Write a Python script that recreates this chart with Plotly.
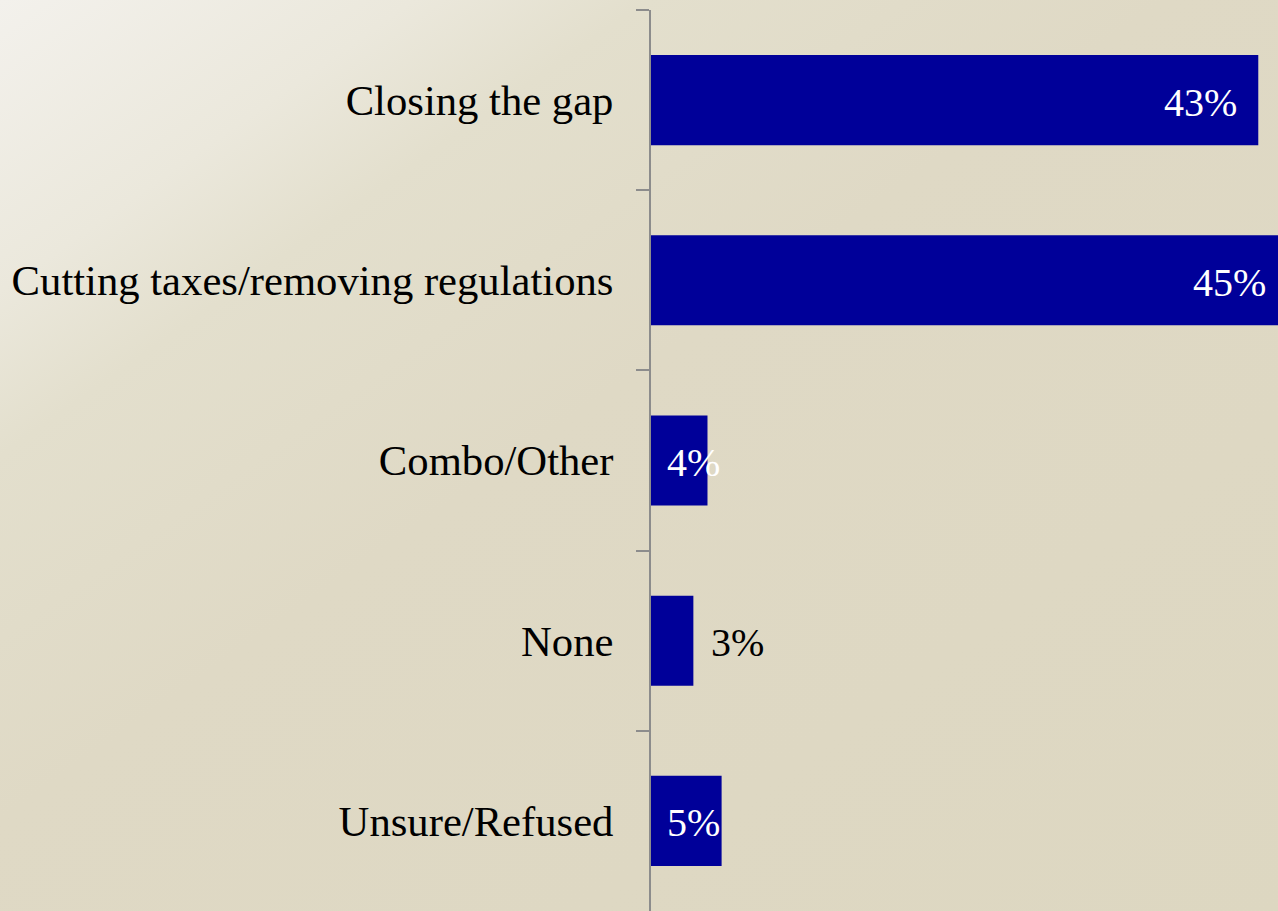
import base64
import plotly.graph_objects as go

categories = ["Closing the gap", "Cutting taxes/removing regulations", "Combo/Other", "None", "Unsure/Refused"]
values = [43, 45, 4, 3, 5]
labels = [f"{v}%" for v in values]

# figure is slightly wider than the 1278px window; the right edge is cropped like the reference
W, H = 1295, 911
ML, MT, MR, MB = 651, 10, 0, 0
PW, PH = W - ML - MR, H - MT - MB
XMAX = 45.6

svg = f'''<svg xmlns="http://www.w3.org/2000/svg" width="{W}" height="{H}" preserveAspectRatio="none">
<defs><linearGradient id="g" x1="0" y1="0" x2="1" y2="1">
<stop offset="0" stop-color="#f3f1ec"/>
<stop offset="0.16" stop-color="#ebe8dc"/>
<stop offset="0.25" stop-color="#e3dfcd"/>
<stop offset="0.45" stop-color="#dfd9c5"/>
<stop offset="1" stop-color="#ddd7c1"/>
</linearGradient></defs>
<rect x="0" y="0" width="{W}" height="{H}" fill="url(#g)"/></svg>'''
bg_src = "data:image/svg+xml;base64," + base64.b64encode(svg.encode()).decode()

fig = go.Figure()
fig.add_trace(go.Bar(
    x=values, y=categories, orientation="h",
    marker=dict(color="#000099", line=dict(width=0)),
    width=0.5, hoverinfo="skip",
))

# data labels: long bars -> inside near the end; 4%/5% -> near the base; 3% -> outside
annotations = []
for cat, v, lab in zip(categories, values, labels):
    if v > 10:
        a = dict(x=v, xanchor="right", xshift=-19, color="white")
    elif v == 3:
        a = dict(x=v, xanchor="left", xshift=16, color="black")
    else:
        a = dict(x=0, xanchor="left", xshift=14, color="white")
    annotations.append(dict(
        x=a["x"], y=cat, xref="x", yref="y", text=lab, showarrow=False,
        xanchor=a["xanchor"], yanchor="middle", xshift=a["xshift"], yshift=-2,
        font=dict(family="Liberation Serif", size=40, color=a["color"]),
    ))

fig.update_layout(
    width=W, height=H, autosize=False,
    margin=dict(l=ML, r=MR, t=MT, b=MB, pad=0),
    paper_bgcolor="#e0dbc8", plot_bgcolor="rgba(0,0,0,0)",
    showlegend=False,
    annotations=annotations,
    images=[dict(source=bg_src, xref="paper", yref="paper",
                 x=-ML / PW, y=1 + MT / PH, sizex=W / PW, sizey=H / PH,
                 xanchor="left", yanchor="top", sizing="stretch", layer="below")],
    xaxis=dict(range=[0, XMAX], visible=False, fixedrange=True),
    yaxis=dict(
        type="category", categoryorder="array", categoryarray=categories,
        range=[4.5, -0.5], fixedrange=True,
        showline=True, linecolor="#8c8c8c", linewidth=2,
        ticks="outside", tickson="boundaries", ticklen=13, tickwidth=2, tickcolor="#8c8c8c",
        tickfont=dict(family="Liberation Serif", size=42.67, color="black"),
        ticklabelstandoff=27, showgrid=False, zeroline=False,
    ),
    font=dict(family="Liberation Serif"),
)

fig.write_html("out.html", config={"displayModeBar": False},
               post_script="document.documentElement.style.overflow='hidden';document.body.style.margin='0';document.body.style.overflow='hidden';")
